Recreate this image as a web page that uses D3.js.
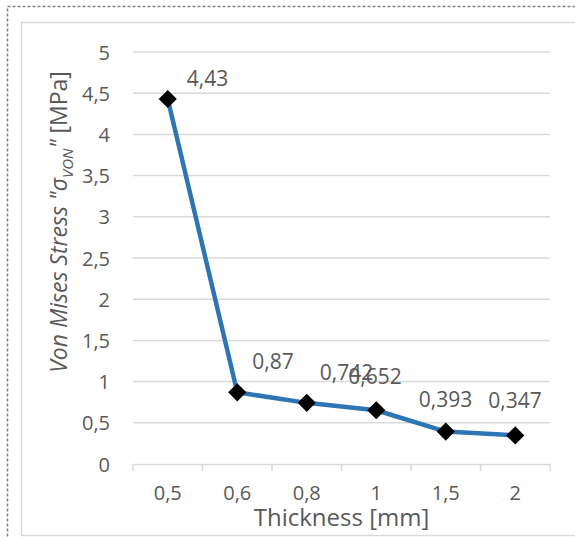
<!DOCTYPE html>
<html>
<head>
<meta charset="utf-8">
<script src="https://cdn.jsdelivr.net/npm/d3@7"></script>
<style>
  body { margin: 0; background: #fff; }
  svg text { font-family: "Open Sans", "Liberation Sans", sans-serif; fill: #595959; }
</style>
</head>
<body>
<div id="chart"></div>
<script>
// chart data
var thickness = ["0,5", "0,6", "0,8", "1", "1,5", "2"];
var stress = [4.43, 0.87, 0.742, 0.652, 0.393, 0.347];
var valueLabels = ["4,43", "0,87", "0,742", "0,652", "0,393", "0,347"];
var yTicks = [0, 0.5, 1, 1.5, 2, 2.5, 3, 3.5, 4, 4.5, 5];

// where excel put each data label, relative to its point
var labelDx = [19, 15, 13, -28, -27, -27];
var labelDy = [-13, -23, -23, -26, -25, -27];

var width = 575, height = 537;
var props = { left: 133, right: 550, top: 52, bottom: 464 };

var svg = d3.select("#chart")
            .append("svg")
            .attr("width", width)
            .attr("height", height);

// outer dashed frame + chart area frame
svg.append("rect")
   .attr("x", 7.5).attr("y", 6.5)
   .attr("width", 580).attr("height", 540)
   .attr("fill", "none")
   .attr("stroke", "#808080")
   .attr("stroke-width", 1.5)
   .attr("stroke-dasharray", "3,2");
svg.append("rect")
   .attr("x", 21.5).attr("y", 22.5)
   .attr("width", 580).attr("height", 513)
   .attr("fill", "#fff")
   .attr("stroke", "#d9d9d9")
   .attr("stroke-width", 1.5);

var yScale = d3.scaleLinear()
               .domain([0, 5])
               .range([props.bottom, props.top]);
var xScale = d3.scaleBand()
               .domain(thickness)
               .range([props.left, props.right]);

// gridlines
svg.append("g")
   .selectAll("line")
   .data(yTicks.filter(function(d) { return d > 0; }))
   .enter()
   .append("line")
   .attr("x1", props.left).attr("x2", props.right)
   .attr("y1", function(d) { return yScale(d); })
   .attr("y2", function(d) { return yScale(d); })
   .attr("stroke", "#d9d9d9")
   .attr("stroke-width", 1.5);

// y axis (labels only)
var yAxis = d3.axisLeft(yScale)
              .tickValues(yTicks)
              .tickSize(0)
              .tickPadding(23)
              .tickFormat(function(d) { return String(d).replace(".", ","); });
var gy = svg.append("g")
            .attr("transform", "translate(" + props.left + ",0)")
            .call(yAxis);
gy.select(".domain").remove();
gy.selectAll("text")
  .style("font-size", "20px")
  .attr("dy", "0.35em");

// x axis with ticks between categories
var gx = svg.append("g")
            .attr("transform", "translate(0," + props.bottom + ")")
            .call(d3.axisBottom(xScale).tickSize(0).tickPadding(22));
gx.select(".domain")
  .attr("stroke", "#d9d9d9")
  .attr("stroke-width", 1.5);
gx.selectAll("text").style("font-size", "20px");
gx.selectAll(".sep")
  .data(d3.range(thickness.length + 1))
  .enter()
  .append("line")
  .attr("class", "sep")
  .attr("x1", function(i) { return props.left + i * xScale.step(); })
  .attr("x2", function(i) { return props.left + i * xScale.step(); })
  .attr("y1", 0).attr("y2", 7)
  .attr("stroke", "#d9d9d9")
  .attr("stroke-width", 1.5);

// line
var line = d3.line()
             .x(function(d, i) { return xScale(thickness[i]) + xScale.bandwidth() / 2; })
             .y(function(d) { return yScale(d); });
svg.append("path")
   .datum(stress)
   .attr("d", line)
   .attr("fill", "none")
   .attr("stroke", "#2e75b6")
   .attr("stroke-width", 4.5)
   .attr("stroke-linejoin", "round");

// diamond markers
var diamond = d3.symbol().type(d3.symbolSquare).size(165);
svg.append("g")
   .selectAll("path")
   .data(stress)
   .enter()
   .append("path")
   .attr("d", diamond)
   .attr("fill", "#000")
   .attr("transform", function(d, i) {
     return "translate(" + (xScale(thickness[i]) + xScale.bandwidth() / 2) + "," + yScale(d) + ") rotate(45)";
   });

// data labels
svg.append("g")
   .selectAll("text")
   .data(stress)
   .enter()
   .append("text")
   .attr("x", function(d, i) { return xScale(thickness[i]) + xScale.bandwidth() / 2 + labelDx[i]; })
   .attr("y", function(d, i) { return yScale(d) + labelDy[i]; })
   .style("font-size", "21px")
   .text(function(d, i) { return valueLabels[i]; });

// axis titles
svg.append("text")
   .attr("x", (props.left + props.right) / 2)
   .attr("y", 526)
   .attr("text-anchor", "middle")
   .style("font-size", "24px")
   .text("Thickness [mm]");

var yTitle = svg.append("text")
   .attr("transform", "translate(67,222) rotate(-90)")
   .attr("text-anchor", "middle")
   .style("font-size", "23px");
yTitle.append("tspan").style("font-style", "italic").text("Von Mises Stress \"\u03c3");
yTitle.append("tspan").attr("dy", 6).style("font-style", "italic").style("font-size", "15px").text("VON");
yTitle.append("tspan").attr("dy", -6).style("font-style", "italic").text("\"");
yTitle.append("tspan").text(" [MPa]");
</script>
</body>
</html>
